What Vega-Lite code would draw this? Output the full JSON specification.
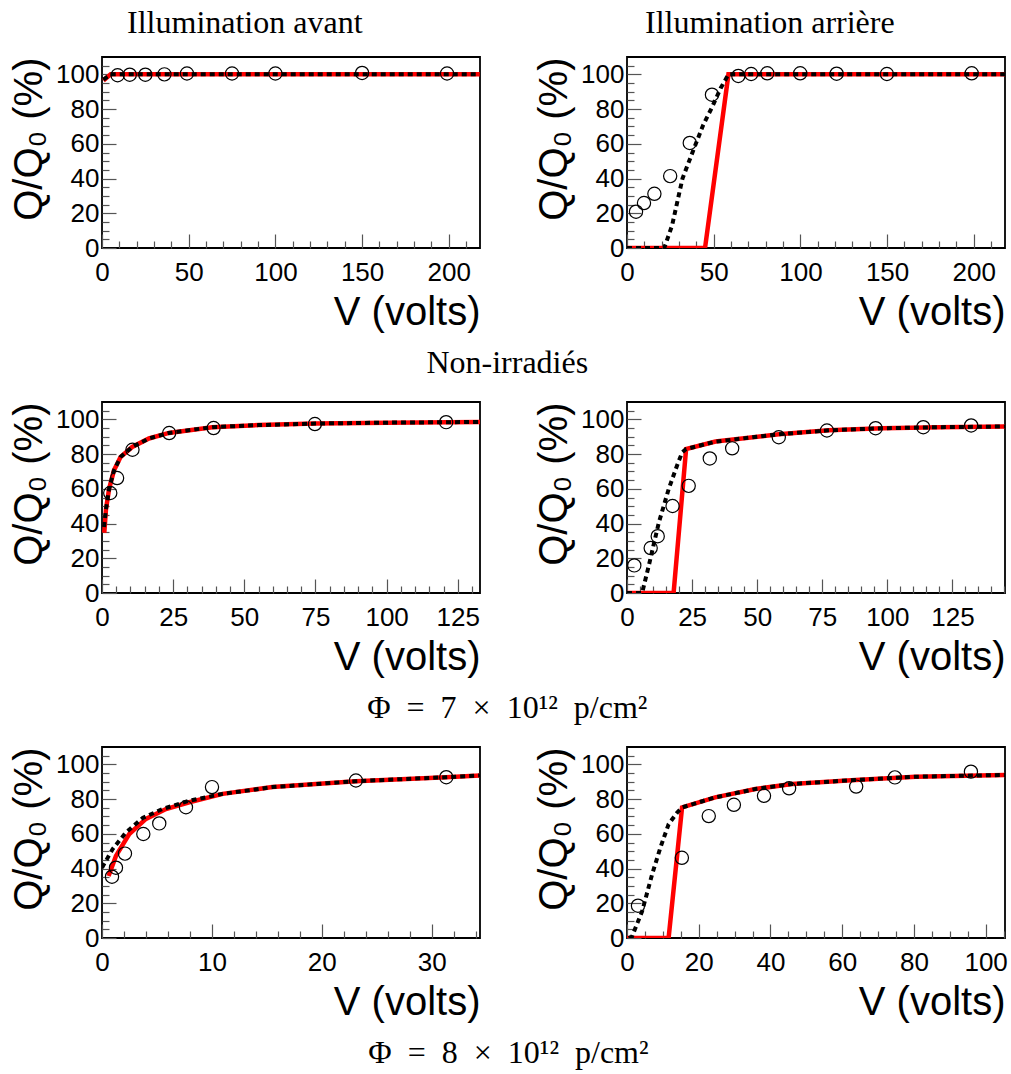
{
  "$schema": "https://vega.github.io/schema/vega-lite/v6.json",
  "padding": {"left": 8, "top": 6, "right": 5, "bottom": 5},
  "background": "white",
  "datasets": {
    "p1": [
      {"s": "p", "v": 9, "q": 99.5}, {"s": "p", "v": 16, "q": 99.8}, {"s": "p", "v": 25, "q": 99.8}, {"s": "p", "v": 36, "q": 100}, {"s": "p", "v": 49, "q": 100.5}, {"s": "p", "v": 75, "q": 100.5}, {"s": "p", "v": 100, "q": 100.5}, {"s": "p", "v": 150, "q": 100.8}, {"s": "p", "v": 199, "q": 100.5},
      {"s": "r", "v": 0.8, "q": 96.5}, {"s": "r", "v": 5, "q": 100}, {"s": "r", "v": 218, "q": 100},
      {"s": "b", "v": 0.8, "q": 97}, {"s": "b", "v": 5, "q": 100}, {"s": "b", "v": 218, "q": 100}
    ],
    "p2": [
      {"s": "p", "v": 5.2, "q": 20.9}, {"s": "p", "v": 9.8, "q": 25.9}, {"s": "p", "v": 15.8, "q": 31.2}, {"s": "p", "v": 24.9, "q": 41.4}, {"s": "p", "v": 36.2, "q": 60.5}, {"s": "p", "v": 49, "q": 88.3}, {"s": "p", "v": 64.2, "q": 99.1}, {"s": "p", "v": 71.6, "q": 100.2}, {"s": "p", "v": 80.9, "q": 100.6}, {"s": "p", "v": 99.9, "q": 100.6}, {"s": "p", "v": 120.9, "q": 100.4}, {"s": "p", "v": 149.9, "q": 100.2}, {"s": "p", "v": 198.8, "q": 100.6},
      {"s": "r", "v": 0, "q": 0}, {"s": "r", "v": 45, "q": 0}, {"s": "r", "v": 58.5, "q": 100}, {"s": "r", "v": 218, "q": 100},
      {"s": "b", "v": 0, "q": 0}, {"s": "b", "v": 21.5, "q": 0}, {"s": "b", "v": 26, "q": 13}, {"s": "b", "v": 32, "q": 40}, {"s": "b", "v": 38.5, "q": 57}, {"s": "b", "v": 44, "q": 71}, {"s": "b", "v": 49, "q": 81}, {"s": "b", "v": 54, "q": 92}, {"s": "b", "v": 58.5, "q": 100}, {"s": "b", "v": 218, "q": 100}
    ],
    "p3": [
      {"s": "p", "v": 2.9, "q": 57.6}, {"s": "p", "v": 5.3, "q": 66.2}, {"s": "p", "v": 10.7, "q": 82.5}, {"s": "p", "v": 23.6, "q": 92.1}, {"s": "p", "v": 39.2, "q": 95}, {"s": "p", "v": 74.8, "q": 97.3}, {"s": "p", "v": 120.9, "q": 98.4},
      {"s": "r", "v": 0.8, "q": 34.7}, {"s": "r", "v": 1.4, "q": 48.3}, {"s": "r", "v": 2.5, "q": 60}, {"s": "r", "v": 4.2, "q": 70.6}, {"s": "r", "v": 6.5, "q": 78.3}, {"s": "r", "v": 10.6, "q": 84.1}, {"s": "r", "v": 16.5, "q": 89}, {"s": "r", "v": 23.5, "q": 92.2}, {"s": "r", "v": 38.7, "q": 95.5}, {"s": "r", "v": 55, "q": 96.7}, {"s": "r", "v": 75, "q": 97.6}, {"s": "r", "v": 100, "q": 98.1}, {"s": "r", "v": 132.8, "q": 98.5},
      {"s": "b", "v": 0.7, "q": 38}, {"s": "b", "v": 1.4, "q": 48.3}, {"s": "b", "v": 2.5, "q": 60}, {"s": "b", "v": 4.2, "q": 70.6}, {"s": "b", "v": 6.5, "q": 78.3}, {"s": "b", "v": 10.6, "q": 84.1}, {"s": "b", "v": 16.5, "q": 89}, {"s": "b", "v": 23.5, "q": 92.2}, {"s": "b", "v": 38.7, "q": 95.5}, {"s": "b", "v": 55, "q": 96.7}, {"s": "b", "v": 75, "q": 97.6}, {"s": "b", "v": 100, "q": 98.1}, {"s": "b", "v": 132.8, "q": 98.5}
    ],
    "p4": [
      {"s": "p", "v": 2.8, "q": 15.9}, {"s": "p", "v": 9.1, "q": 25.9}, {"s": "p", "v": 11.8, "q": 32.7}, {"s": "p", "v": 17.5, "q": 50.1}, {"s": "p", "v": 23.7, "q": 61.7}, {"s": "p", "v": 31.8, "q": 77.5}, {"s": "p", "v": 40.4, "q": 83.3}, {"s": "p", "v": 58.3, "q": 89.7}, {"s": "p", "v": 76.8, "q": 93.6}, {"s": "p", "v": 95.5, "q": 94.9}, {"s": "p", "v": 113.8, "q": 95.5}, {"s": "p", "v": 132.2, "q": 96.5},
      {"s": "r", "v": 0, "q": 0}, {"s": "r", "v": 17.9, "q": 0}, {"s": "r", "v": 22.7, "q": 82.9}, {"s": "r", "v": 34, "q": 87.2}, {"s": "r", "v": 58.3, "q": 91.4}, {"s": "r", "v": 77.5, "q": 93.7}, {"s": "r", "v": 98, "q": 94.9}, {"s": "r", "v": 120, "q": 95.5}, {"s": "r", "v": 145.2, "q": 95.9},
      {"s": "b", "v": 0, "q": 0}, {"s": "b", "v": 5.8, "q": 0}, {"s": "b", "v": 8.3, "q": 15.3}, {"s": "b", "v": 12.2, "q": 40.4}, {"s": "b", "v": 16, "q": 59.8}, {"s": "b", "v": 19.2, "q": 73.3}, {"s": "b", "v": 21.2, "q": 81}, {"s": "b", "v": 22.7, "q": 82.9}, {"s": "b", "v": 34, "q": 87.2}, {"s": "b", "v": 58.3, "q": 91.4}, {"s": "b", "v": 77.5, "q": 93.7}, {"s": "b", "v": 98, "q": 94.9}, {"s": "b", "v": 120, "q": 95.5}, {"s": "b", "v": 145.2, "q": 95.9}
    ],
    "p5": [
      {"s": "p", "v": 0.91, "q": 35.3}, {"s": "p", "v": 1.27, "q": 40.5}, {"s": "p", "v": 2.09, "q": 48.6}, {"s": "p", "v": 3.76, "q": 59.9}, {"s": "p", "v": 5.21, "q": 66}, {"s": "p", "v": 7.64, "q": 75.3}, {"s": "p", "v": 10.01, "q": 86.9}, {"s": "p", "v": 23.11, "q": 90.7}, {"s": "p", "v": 31.33, "q": 92.6},
      {"s": "r", "v": 0.6, "q": 35.7}, {"s": "r", "v": 1.27, "q": 47.3}, {"s": "r", "v": 2.48, "q": 59.9}, {"s": "r", "v": 4, "q": 68.6}, {"s": "r", "v": 5.82, "q": 74.3}, {"s": "r", "v": 7.94, "q": 78.2}, {"s": "r", "v": 10.98, "q": 83}, {"s": "r", "v": 15.5, "q": 86.9}, {"s": "r", "v": 23.1, "q": 90.3}, {"s": "r", "v": 31.3, "q": 92.6}, {"s": "r", "v": 34.4, "q": 93.6},
      {"s": "b", "v": 0, "q": 40.5}, {"s": "b", "v": 0.97, "q": 51.2}, {"s": "b", "v": 2.18, "q": 60.8}, {"s": "b", "v": 3.7, "q": 69.1}, {"s": "b", "v": 5.5, "q": 74.3}, {"s": "b", "v": 7.9, "q": 79}, {"s": "b", "v": 10.98, "q": 83}, {"s": "b", "v": 15.5, "q": 86.9}, {"s": "b", "v": 23.1, "q": 90.3}, {"s": "b", "v": 31.3, "q": 92.6}, {"s": "b", "v": 34.4, "q": 93.6}
    ],
    "p6": [
      {"s": "p", "v": 3.06, "q": 18.6}, {"s": "p", "v": 15.3, "q": 46.2}, {"s": "p", "v": 22.8, "q": 70.2}, {"s": "p", "v": 29.8, "q": 76.7}, {"s": "p", "v": 38.2, "q": 81.9}, {"s": "p", "v": 45.2, "q": 86.2}, {"s": "p", "v": 63.9, "q": 87.2}, {"s": "p", "v": 74.7, "q": 92.5}, {"s": "p", "v": 95.9, "q": 95.8},
      {"s": "r", "v": 0, "q": 0}, {"s": "r", "v": 11.6, "q": 0}, {"s": "r", "v": 15.35, "q": 75.2}, {"s": "r", "v": 24.6, "q": 81}, {"s": "r", "v": 35.8, "q": 85.8}, {"s": "r", "v": 46, "q": 88.7}, {"s": "r", "v": 63.7, "q": 91}, {"s": "r", "v": 80.5, "q": 92.9}, {"s": "r", "v": 105.4, "q": 93.9},
      {"s": "b", "v": 0.5, "q": 0}, {"s": "b", "v": 1.4, "q": 0.9}, {"s": "b", "v": 4.2, "q": 15.3}, {"s": "b", "v": 7, "q": 36.6}, {"s": "b", "v": 9.3, "q": 52}, {"s": "b", "v": 11.6, "q": 65.5}, {"s": "b", "v": 14, "q": 72.3}, {"s": "b", "v": 15.35, "q": 75.2}, {"s": "b", "v": 24.6, "q": 81}, {"s": "b", "v": 35.8, "q": 85.8}, {"s": "b", "v": 46, "q": 88.7}, {"s": "b", "v": 63.7, "q": 91}, {"s": "b", "v": 80.5, "q": 92.9}, {"s": "b", "v": 105.4, "q": 93.9}
    ]
  },
  "spacing": 22,
  "vconcat": [
    {
      "spacing": 52,
      "title": {"text": "Non-irradiés", "orient": "bottom", "anchor": "middle", "frame": "bounds", "baseline": "alphabetic", "offset": 40},
      "hconcat": [
        {
          "width": 378, "height": 191,
          "title": {"text": "Illumination avant", "frame": "bounds", "anchor": "middle", "baseline": "alphabetic", "offset": -8},
          "data": {"name": "p1"},
          "resolve": {"axis": {"x": "independent", "y": "independent"}},
          "layer": [
            {"transform": [{"filter": "datum.s === 'r'"}],
             "mark": {"type": "line", "color": "#ff0000", "strokeWidth": 4.5, "clip": true},
             "encoding": {
               "x": {"field": "v", "type": "quantitative", "scale": {"domain": [0, 218], "nice": false, "zero": false}, "axis": {"orient": "bottom", "values": [10,20,30,40,60,70,80,90,110,120,130,140,160,170,180,190,210], "offset": -7, "tickSize": 7, "labels": false, "title": null}},
               "y": {"field": "q", "type": "quantitative", "scale": {"domain": [0, 110], "nice": false}, "axis": {"orient": "left", "values": [5,10,15,25,30,35,45,50,55,65,70,75,85,90,95,105], "offset": -7, "tickSize": 7, "labels": false, "title": null}}
             }},
            {"transform": [{"filter": "datum.s === 'b'"}],
             "mark": {"type": "line", "color": "black", "strokeWidth": 4, "strokeDash": [5, 4], "clip": true},
             "encoding": {
               "x": {"field": "v", "type": "quantitative", "scale": {"domain": [0, 218], "nice": false, "zero": false}, "axis": {"orient": "bottom", "values": [0,50,100,150,200], "offset": -14, "tickSize": 14, "labelPadding": 11, "titlePadding": 7, "title": "V (volts)"}},
               "y": {"field": "q", "type": "quantitative", "scale": {"domain": [0, 110], "nice": false}, "axis": {"orient": "left", "values": [0,20,40,60,80,100], "offset": -14, "tickSize": 14, "labelPadding": 3, "titlePadding": 6, "title": "Q/Q₀ (%)"}}
             }},
            {"transform": [{"filter": "datum.s === 'p'"}],
             "mark": {"type": "point", "shape": "circle", "size": 175, "filled": false, "stroke": "black", "strokeWidth": 1.2, "opacity": 1},
             "encoding": {
               "x": {"field": "v", "type": "quantitative", "axis": null},
               "y": {"field": "q", "type": "quantitative", "axis": null}
             }}
          ]
        },
        {
          "width": 378, "height": 191,
          "title": {"text": "Illumination arrière", "frame": "bounds", "anchor": "middle", "baseline": "alphabetic", "offset": -8},
          "data": {"name": "p2"},
          "resolve": {"axis": {"x": "independent", "y": "independent"}},
          "layer": [
            {"transform": [{"filter": "datum.s === 'r'"}],
             "mark": {"type": "line", "color": "#ff0000", "strokeWidth": 4.5, "clip": true},
             "encoding": {
               "x": {"field": "v", "type": "quantitative", "scale": {"domain": [0, 218], "nice": false, "zero": false}, "axis": {"orient": "bottom", "values": [10,20,30,40,60,70,80,90,110,120,130,140,160,170,180,190,210], "offset": -7, "tickSize": 7, "labels": false, "title": null}},
               "y": {"field": "q", "type": "quantitative", "scale": {"domain": [0, 110], "nice": false}, "axis": {"orient": "left", "values": [5,10,15,25,30,35,45,50,55,65,70,75,85,90,95,105], "offset": -7, "tickSize": 7, "labels": false, "title": null}}
             }},
            {"transform": [{"filter": "datum.s === 'b'"}],
             "mark": {"type": "line", "color": "black", "strokeWidth": 4, "strokeDash": [5, 4], "clip": true},
             "encoding": {
               "x": {"field": "v", "type": "quantitative", "scale": {"domain": [0, 218], "nice": false, "zero": false}, "axis": {"orient": "bottom", "values": [0,50,100,150,200], "offset": -14, "tickSize": 14, "labelPadding": 11, "titlePadding": 7, "title": "V (volts)"}},
               "y": {"field": "q", "type": "quantitative", "scale": {"domain": [0, 110], "nice": false}, "axis": {"orient": "left", "values": [0,20,40,60,80,100], "offset": -14, "tickSize": 14, "labelPadding": 3, "titlePadding": 6, "title": "Q/Q₀ (%)"}}
             }},
            {"transform": [{"filter": "datum.s === 'p'"}],
             "mark": {"type": "point", "shape": "circle", "size": 175, "filled": false, "stroke": "black", "strokeWidth": 1.2, "opacity": 1},
             "encoding": {
               "x": {"field": "v", "type": "quantitative", "axis": null},
               "y": {"field": "q", "type": "quantitative", "axis": null}
             }}
          ]
        }
      ]
    },
    {
      "spacing": 52,
      "title": {"text": "Φ\u00a0\u00a0=\u00a0\u00a07\u00a0\u00a0×\u00a0\u00a010¹²\u00a0\u00a0p/cm²", "orient": "bottom", "anchor": "middle", "frame": "bounds", "baseline": "alphabetic", "offset": 40},
      "hconcat": [
        {
          "width": 378, "height": 191,
          "data": {"name": "p3"},
          "resolve": {"axis": {"x": "independent", "y": "independent"}},
          "layer": [
            {"transform": [{"filter": "datum.s === 'r'"}],
             "mark": {"type": "line", "color": "#ff0000", "strokeWidth": 4.5, "clip": true},
             "encoding": {
               "x": {"field": "v", "type": "quantitative", "scale": {"domain": [0, 132.8], "nice": false, "zero": false}, "axis": {"orient": "bottom", "values": [5,10,15,20,30,35,40,45,55,60,65,70,80,85,90,95,105,110,115,120,130], "offset": -7, "tickSize": 7, "labels": false, "title": null}},
               "y": {"field": "q", "type": "quantitative", "scale": {"domain": [0, 110], "nice": false}, "axis": {"orient": "left", "values": [5,10,15,25,30,35,45,50,55,65,70,75,85,90,95,105], "offset": -7, "tickSize": 7, "labels": false, "title": null}}
             }},
            {"transform": [{"filter": "datum.s === 'b'"}],
             "mark": {"type": "line", "color": "black", "strokeWidth": 4, "strokeDash": [5, 4], "clip": true},
             "encoding": {
               "x": {"field": "v", "type": "quantitative", "scale": {"domain": [0, 132.8], "nice": false, "zero": false}, "axis": {"orient": "bottom", "values": [0,25,50,75,100,125], "offset": -14, "tickSize": 14, "labelPadding": 11, "titlePadding": 7, "title": "V (volts)"}},
               "y": {"field": "q", "type": "quantitative", "scale": {"domain": [0, 110], "nice": false}, "axis": {"orient": "left", "values": [0,20,40,60,80,100], "offset": -14, "tickSize": 14, "labelPadding": 3, "titlePadding": 6, "title": "Q/Q₀ (%)"}}
             }},
            {"transform": [{"filter": "datum.s === 'p'"}],
             "mark": {"type": "point", "shape": "circle", "size": 175, "filled": false, "stroke": "black", "strokeWidth": 1.2, "opacity": 1},
             "encoding": {
               "x": {"field": "v", "type": "quantitative", "axis": null},
               "y": {"field": "q", "type": "quantitative", "axis": null}
             }}
          ]
        },
        {
          "width": 378, "height": 191,
          "data": {"name": "p4"},
          "resolve": {"axis": {"x": "independent", "y": "independent"}},
          "layer": [
            {"transform": [{"filter": "datum.s === 'r'"}],
             "mark": {"type": "line", "color": "#ff0000", "strokeWidth": 4.5, "clip": true},
             "encoding": {
               "x": {"field": "v", "type": "quantitative", "scale": {"domain": [0, 145.2], "nice": false, "zero": false}, "axis": {"orient": "bottom", "values": [5,10,15,20,30,35,40,45,55,60,65,70,80,85,90,95,105,110,115,120,130,135,140,145], "offset": -7, "tickSize": 7, "labels": false, "title": null}},
               "y": {"field": "q", "type": "quantitative", "scale": {"domain": [0, 110], "nice": false}, "axis": {"orient": "left", "values": [5,10,15,25,30,35,45,50,55,65,70,75,85,90,95,105], "offset": -7, "tickSize": 7, "labels": false, "title": null}}
             }},
            {"transform": [{"filter": "datum.s === 'b'"}],
             "mark": {"type": "line", "color": "black", "strokeWidth": 4, "strokeDash": [5, 4], "clip": true},
             "encoding": {
               "x": {"field": "v", "type": "quantitative", "scale": {"domain": [0, 145.2], "nice": false, "zero": false}, "axis": {"orient": "bottom", "values": [0,25,50,75,100,125], "offset": -14, "tickSize": 14, "labelPadding": 11, "titlePadding": 7, "title": "V (volts)"}},
               "y": {"field": "q", "type": "quantitative", "scale": {"domain": [0, 110], "nice": false}, "axis": {"orient": "left", "values": [0,20,40,60,80,100], "offset": -14, "tickSize": 14, "labelPadding": 3, "titlePadding": 6, "title": "Q/Q₀ (%)"}}
             }},
            {"transform": [{"filter": "datum.s === 'p'"}],
             "mark": {"type": "point", "shape": "circle", "size": 175, "filled": false, "stroke": "black", "strokeWidth": 1.2, "opacity": 1},
             "encoding": {
               "x": {"field": "v", "type": "quantitative", "axis": null},
               "y": {"field": "q", "type": "quantitative", "axis": null}
             }}
          ]
        }
      ]
    },
    {
      "spacing": 52,
      "title": {"text": "Φ\u00a0\u00a0=\u00a0\u00a08\u00a0\u00a0×\u00a0\u00a010¹²\u00a0\u00a0p/cm²", "orient": "bottom", "anchor": "middle", "frame": "bounds", "baseline": "alphabetic", "offset": 40},
      "hconcat": [
        {
          "width": 378, "height": 191,
          "data": {"name": "p5"},
          "resolve": {"axis": {"x": "independent", "y": "independent"}},
          "layer": [
            {"transform": [{"filter": "datum.s === 'r'"}],
             "mark": {"type": "line", "color": "#ff0000", "strokeWidth": 4.5, "clip": true},
             "encoding": {
               "x": {"field": "v", "type": "quantitative", "scale": {"domain": [0, 34.4], "nice": false, "zero": false}, "axis": {"orient": "bottom", "values": [2,4,6,8,12,14,16,18,22,24,26,28,32,34], "offset": -7, "tickSize": 7, "labels": false, "title": null}},
               "y": {"field": "q", "type": "quantitative", "scale": {"domain": [0, 110], "nice": false}, "axis": {"orient": "left", "values": [5,10,15,25,30,35,45,50,55,65,70,75,85,90,95,105], "offset": -7, "tickSize": 7, "labels": false, "title": null}}
             }},
            {"transform": [{"filter": "datum.s === 'b'"}],
             "mark": {"type": "line", "color": "black", "strokeWidth": 4, "strokeDash": [5, 4], "clip": true},
             "encoding": {
               "x": {"field": "v", "type": "quantitative", "scale": {"domain": [0, 34.4], "nice": false, "zero": false}, "axis": {"orient": "bottom", "values": [0,10,20,30], "offset": -14, "tickSize": 14, "labelPadding": 11, "titlePadding": 7, "title": "V (volts)"}},
               "y": {"field": "q", "type": "quantitative", "scale": {"domain": [0, 110], "nice": false}, "axis": {"orient": "left", "values": [0,20,40,60,80,100], "offset": -14, "tickSize": 14, "labelPadding": 3, "titlePadding": 6, "title": "Q/Q₀ (%)"}}
             }},
            {"transform": [{"filter": "datum.s === 'p'"}],
             "mark": {"type": "point", "shape": "circle", "size": 175, "filled": false, "stroke": "black", "strokeWidth": 1.2, "opacity": 1},
             "encoding": {
               "x": {"field": "v", "type": "quantitative", "axis": null},
               "y": {"field": "q", "type": "quantitative", "axis": null}
             }}
          ]
        },
        {
          "width": 378, "height": 191,
          "data": {"name": "p6"},
          "resolve": {"axis": {"x": "independent", "y": "independent"}},
          "layer": [
            {"transform": [{"filter": "datum.s === 'r'"}],
             "mark": {"type": "line", "color": "#ff0000", "strokeWidth": 4.5, "clip": true},
             "encoding": {
               "x": {"field": "v", "type": "quantitative", "scale": {"domain": [0, 105.4], "nice": false, "zero": false}, "axis": {"orient": "bottom", "values": [5,10,15,25,30,35,45,50,55,65,70,75,85,90,95,105], "offset": -7, "tickSize": 7, "labels": false, "title": null}},
               "y": {"field": "q", "type": "quantitative", "scale": {"domain": [0, 110], "nice": false}, "axis": {"orient": "left", "values": [5,10,15,25,30,35,45,50,55,65,70,75,85,90,95,105], "offset": -7, "tickSize": 7, "labels": false, "title": null}}
             }},
            {"transform": [{"filter": "datum.s === 'b'"}],
             "mark": {"type": "line", "color": "black", "strokeWidth": 4, "strokeDash": [5, 4], "clip": true},
             "encoding": {
               "x": {"field": "v", "type": "quantitative", "scale": {"domain": [0, 105.4], "nice": false, "zero": false}, "axis": {"orient": "bottom", "values": [0,20,40,60,80,100], "offset": -14, "tickSize": 14, "labelPadding": 11, "titlePadding": 7, "title": "V (volts)"}},
               "y": {"field": "q", "type": "quantitative", "scale": {"domain": [0, 110], "nice": false}, "axis": {"orient": "left", "values": [0,20,40,60,80,100], "offset": -14, "tickSize": 14, "labelPadding": 3, "titlePadding": 6, "title": "Q/Q₀ (%)"}}
             }},
            {"transform": [{"filter": "datum.s === 'p'"}],
             "mark": {"type": "point", "shape": "circle", "size": 175, "filled": false, "stroke": "black", "strokeWidth": 1.2, "opacity": 1},
             "encoding": {
               "x": {"field": "v", "type": "quantitative", "axis": null},
               "y": {"field": "q", "type": "quantitative", "axis": null}
             }}
          ]
        }
      ]
    }
  ],
  "config": {
    "view": {"stroke": "black", "strokeWidth": 1.8},
    "axis": {"domain": false, "grid": false, "ticks": true, "tickColor": "#555555", "tickWidth": 1.2, "labelFont": "Liberation Sans", "labelFontSize": 26, "labelColor": "black", "labelFlush": false, "labelOverlap": false, "titleFont": "Liberation Sans", "titleFontSize": 40, "titleFontWeight": "normal", "titleColor": "black", "titleAnchor": "end"},
    "title": {"font": "Liberation Serif", "fontSize": 32, "fontWeight": "normal", "color": "black"}
  }
}
